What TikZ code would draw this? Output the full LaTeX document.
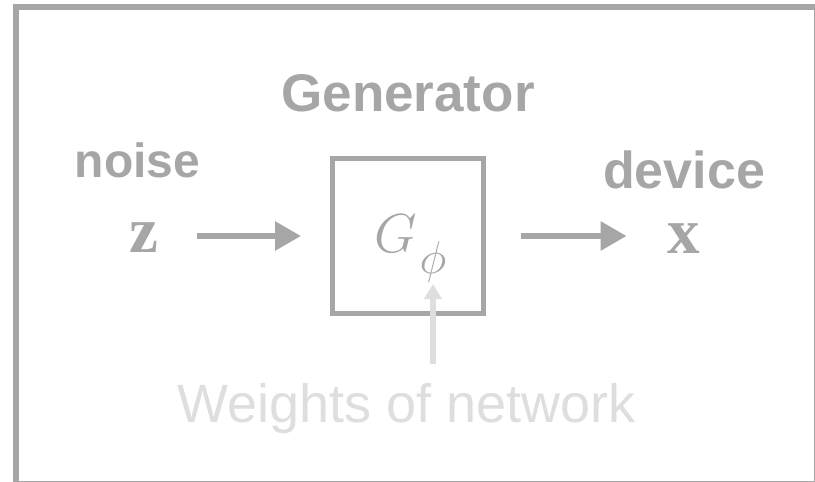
\RequirePackage{fix-cm}
\documentclass[tikz,border=0pt]{standalone}
\usepackage[no-math]{fontspec}
\setmainfont{Liberation Sans}
\newfontfamily\vecfont{Liberation Serif}
\usetikzlibrary{arrows.meta, positioning}

\definecolor{gengray}{HTML}{A6A6A6}
\definecolor{weightgray}{HTML}{DEDEDE}

\begin{document}
\begin{tikzpicture}[
  x=1pt, y=-1pt, % one unit is one pixel of the original, y running down
  word/.style={text=gengray, inner sep=0pt, font=\fontsize{48}{56}\selectfont\bfseries},
  vec/.style={text=gengray, inner sep=0pt, font=\vecfont\fontsize{65}{70}\selectfont\bfseries},
  flow/.style={draw=gengray, line width=6pt, -{Triangle[length=26pt,width=28pt]}},
  wflow/.style={draw=weightgray, line width=6pt, -{Triangle[length=15pt,width=17pt]}},
  genbox/.style={draw=gengray, line width=5pt, minimum width=151pt, minimum height=155.5pt}]

  \useasboundingbox (0,0) rectangle (815,482);
  \draw[gengray, line width=5.5pt] (16,7) rectangle (817,484);

  % generator block and its label
  \node[genbox] (gen) at (408,236) {};
  \node[word, font=\fontsize{53}{60}\selectfont\bfseries, above=43.5pt of gen] (gentitle) {Generator};
  \node[text=gengray, inner sep=0pt, anchor=base west] (gphi) at (374,252)
    {\fontsize{55}{60}\selectfont$G$\hspace{3pt}\raisebox{-21pt}{\fontsize{46}{48}\selectfont$\phi$}};

  % input and output
  \node[vec, anchor=base] (z) at (143.5,252) {z};
  \node[word, anchor=base] (noise) at (137.5,177) {noise};
  \node[vec, anchor=base] (x) at (684,253) {x};
  \node[word, font=\fontsize{52}{60}\selectfont\bfseries, anchor=base] (device) at (684,188) {device};

  \draw[flow, shorten <=39pt, shorten >=29pt] (z.east |- gen.west) -- (gen.west);
  \draw[flow, shorten <=35pt, shorten >=41pt] (gen.east) -- (x.west |- gen.east);

  % weights
  \node[text=weightgray, inner sep=0pt, anchor=base, font=\fontsize{54}{60}\selectfont] (weights) at (406.5,422) {Weights of network};
  \coordinate (wtip) at (433,284);
  \draw[wflow, shorten <=19pt] (weights.north -| wtip) -- (wtip);
\end{tikzpicture}
\end{document}
